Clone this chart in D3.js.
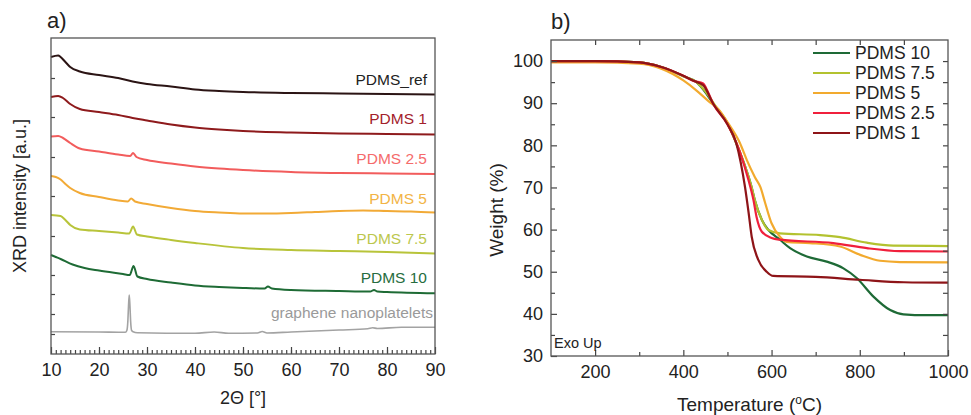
<!DOCTYPE html>
<html>
<head>
<meta charset="utf-8">
<script src="https://cdn.jsdelivr.net/npm/d3@7"></script>
<style>
  body { margin: 0; background: #fff; }
  svg text { font-family: "Liberation Sans", Arial, sans-serif; }
</style>
</head>
<body>
<svg id="fig" width="971" height="415"></svg>
<script>
// ---- XRD data (panel a), [2theta, intensity a.u.] ----
var xrdRef = [[10,297],[11.5,298.5],[12,297],[13,292],[14,287],[16,282.5],[20,279],[24,276],[27,272.5],[30,270],[35,267.5],[40,264.5],[45,263],[50,262],[60,261],[70,260.5],[80,260],[90,259.5]];
var xrd1 = [[10,257],[11.5,258],[12.5,256],[14,250],[16,245],[20,242],[24,239],[27,236],[30,233.5],[35,229.5],[40,226.5],[45,224.5],[50,223],[60,221.5],[70,220.5],[80,220],[90,219.5]];
var xrd25 = [[10,217.5],[11.5,218],[12.5,216],[14,211],[16,205.5],[20,202.5],[24,199.5],[26.5,198],[27.1,201],[27.8,197],[30,194],[35,190.5],[40,187.5],[45,185.5],[50,184],[60,182],[70,181],[80,180.5],[90,180]];
var xrd5 = [[10,178],[11,177],[12,174.5],[13,170],[14,166],[16,161],[20,157],[24,153.5],[26,152.5],[26.7,155.5],[27.5,152.5],[30,150],[35,146],[40,143],[45,141.5],[50,140.5],[55,140.5],[60,141],[65,142],[70,143],[75,143.5],[80,143],[85,142.5],[90,141.5]];
var xrd75 = [[10,139],[12,138],[13,134],[14,129],[16,124.5],[20,123],[24,121.5],[26.3,120.5],[27.1,127.5],[27.9,119.5],[30,117.5],[35,114],[40,111],[50,106],[60,104],[70,103],[80,102],[90,100.5]];
var xrd10 = [[10,99],[11,97],[12,95],[14.5,89.5],[17,86],[20,83.5],[25,80],[26.4,79],[27.2,88],[28,77.5],[30,75],[35,71.5],[40,68.5],[45,67],[50,66],[54.5,65.5],[55.2,67.5],[56,65.5],[60,64],[70,63],[76.5,62.5],[77.3,64],[78,62.5],[80,62],[90,60.7]];
var xrdGnp = [[10,22.3],[20,22],[25.5,21.7],[25.8,23.5],[26,32],[26.15,48],[26.3,59],[26.45,48],[26.6,32],[26.8,23.5],[27.1,22.3],[28,21.3],[40,20.7],[44,22],[47,20.7],[53,21],[54,22.5],[55,21],[60,22],[70,24],[76,25.2],[77,26.2],[78,25.5],[83,26.7],[90,26.7]];

var xrdNames = ["PDMS_ref", "PDMS 1", "PDMS 2.5", "PDMS 5", "PDMS 7.5", "PDMS 10", "graphene nanoplatelets"];
var xrdLabelY = [274, 235, 195, 155, 115, 76, 41];
var xrdYTicks = [276, 237, 197, 158, 118, 79, 60, 40, 20];
var xrdXTicks = [10, 20, 30, 40, 50, 60, 70, 80, 90];

// ---- TGA data (panel b), [temperature, weight %] ----
var tga10 = [[100,100],[200,100],[300,99.7],[350,98.6],[400,96.4],[430,95],[450,92.6],[470,89.5],[500,85.3],[520,80.5],[540,75],[555,70],[562,67],[578,62.3],[593,59.9],[619,57.6],[642,55.6],[680,53.6],[725,52.4],[763,50.8],[793,48.5],[831,44.1],[869,40.9],[899,39.9],[950,39.7],[1000,39.7]];
var tga75 = [[100,100],[200,100],[300,99.7],[350,98.6],[400,96.4],[430,95],[450,92.8],[470,89.8],[500,85.3],[520,80.5],[540,75],[555,70],[562,67],[578,62.3],[593,59.9],[619,59.1],[710,58.7],[755,58.2],[816,56.9],[876,56.2],[1000,56.1]];
var tga5 = [[100,99.7],[200,99.7],[300,99.4],[350,98.2],[400,95.4],[430,93],[457,90.5],[480,88.5],[500,85.5],[528,80.6],[544,76.5],[562,72.5],[575,70],[585,66.5],[600,61.5],[619,58.3],[634,57.1],[687,56.8],[755,56],[801,54],[846,52.6],[891,52.3],[1000,52.2]];
var tga25 = [[100,100],[200,100],[300,99.7],[350,98.6],[400,96.5],[423,95.3],[445,94.7],[452,93.5],[468,89.8],[500,85],[528,78.5],[547,72],[559,67],[566,63],[578,59.5],[600,58],[619,57.6],[740,56.8],[816,55.6],[891,54.9],[1000,54.8]];
var tga1 = [[100,100],[200,100],[300,99.7],[350,98.6],[400,96.5],[423,95.3],[445,94.3],[468,89.8],[500,85],[520,80.5],[530,76],[540,70],[548,64],[555,58.3],[570,52.8],[589,50],[604,49],[700,48.8],[800,48.1],[900,47.5],[1000,47.4]];

var tgaNames = ["PDMS 10", "PDMS 7.5", "PDMS 5", "PDMS 2.5", "PDMS 1"];
var tgaXTicks = [200, 400, 600, 800, 1000];
var tgaYTicks = [30, 40, 50, 60, 70, 80, 90, 100];

var svg = d3.select("#fig");

// ================= panel a =================
var xrdSeries = [xrdRef, xrd1, xrd25, xrd5, xrd75, xrd10, xrdGnp];
var xrdLine = ["#2b1414", "#8e1a1c", "#f25c5c", "#f2aa36", "#b8c43a", "#1e6b35", "#a3a3a3"];
var xrdText = ["#222222", "#a3212b", "#f56b6b", "#f2b445", "#bcc74d", "#276d40", "#9a9a9a"];

var ax = { left: 51, right: 435, top: 38, bottom: 354 };
var xa = d3.scaleLinear().domain([10, 90]).range([ax.left, ax.right]);
var ya = d3.scaleLinear().domain([0, 316]).range([ax.bottom, ax.top]);

var ga = svg.append("g");

var lineA = d3.line()
    .x(function(d) { return xa(d[0]); })
    .y(function(d) { return ya(d[1]); })
    .curve(d3.curveMonotoneX);

ga.selectAll("path.xrd")
    .data(xrdSeries)
  .enter().append("path")
    .attr("class", "xrd")
    .attr("d", lineA)
    .attr("fill", "none")
    .attr("stroke", function(d, i) { return xrdLine[i]; })
    .attr("stroke-width", function(d, i) { return i == 6 ? 1.6 : 2; });

ga.selectAll("text.lab")
    .data(xrdNames)
  .enter().append("text")
    .attr("class", "lab")
    .attr("x", function(d, i) { return i == 6 ? ax.right - 2 : ax.right - 8; })
    .attr("y", function(d, i) { return ya(xrdLabelY[i]); })
    .attr("dy", "0.35em")
    .attr("text-anchor", "end")
    .attr("font-size", 15.5)
    .attr("fill", function(d, i) { return xrdText[i]; })
    .text(function(d) { return d; });

// minor and major bottom ticks, inward
ga.append("g")
    .attr("transform", "translate(0," + ax.bottom + ")")
    .call(d3.axisBottom(xa).tickValues(d3.range(11, 90, 1)).tickSize(-4).tickFormat(""));
ga.append("g")
    .attr("transform", "translate(0," + ax.bottom + ")")
    .call(d3.axisBottom(xa).tickValues(xrdXTicks).tickSize(-7).tickPadding(9).tickFormat(d3.format("d")));
ga.append("g")
    .attr("transform", "translate(" + ax.left + ",0)")
    .call(d3.axisLeft(ya).tickValues(xrdYTicks).tickSize(-4).tickFormat(""));

ga.append("rect")
    .attr("x", ax.left).attr("y", ax.top)
    .attr("width", ax.right - ax.left).attr("height", ax.bottom - ax.top)
    .attr("fill", "none").attr("stroke", "#555").attr("stroke-width", 1.3);

ga.append("text")
    .attr("x", (ax.left + ax.right) / 2)
    .attr("y", 404)
    .attr("text-anchor", "middle")
    .attr("font-size", 18)
    .attr("fill", "#222")
    .text("2\u0398 [\u00b0]");

ga.append("text")
    .attr("transform", "translate(26," + ((ax.top + ax.bottom) / 2) + ") rotate(-90)")
    .attr("text-anchor", "middle")
    .attr("font-size", 18)
    .attr("fill", "#222")
    .text("XRD intensity [a.u.]");

ga.append("text")
    .attr("x", 47).attr("y", 28)
    .attr("font-size", 22)
    .attr("fill", "#222")
    .text("a)");

// ================= panel b =================
var tgaSeries = [tga10, tga75, tga5, tga25, tga1];
var tgaColor = ["#1e6a36", "#b3c22f", "#f2aa2e", "#f0203c", "#8e1418"];

var bx = { left: 551, right: 948, top: 40, bottom: 356 };
var xb = d3.scaleLinear().domain([100, 1000]).range([bx.left, bx.right]);
var yb = d3.scaleLinear().domain([30, 105]).range([bx.bottom, bx.top]);

var gb = svg.append("g");

var lineB = d3.line()
    .x(function(d) { return xb(d[0]); })
    .y(function(d) { return yb(d[1]); })
    .curve(d3.curveMonotoneX);

gb.selectAll("path.tga")
    .data(tgaSeries)
  .enter().append("path")
    .attr("class", "tga")
    .attr("d", lineB)
    .attr("fill", "none")
    .attr("stroke", function(d, i) { return tgaColor[i]; })
    .attr("stroke-width", 2.2);

// ticks on all four sides, inward
gb.append("g")
    .attr("transform", "translate(0," + bx.bottom + ")")
    .call(d3.axisBottom(xb).tickValues([300, 500, 700, 900]).tickSize(-4).tickFormat(""));
gb.append("g")
    .attr("transform", "translate(0," + bx.bottom + ")")
    .call(d3.axisBottom(xb).tickValues(tgaXTicks).tickSize(-6).tickPadding(9).tickFormat(d3.format("d")));
gb.append("g")
    .attr("transform", "translate(0," + bx.top + ")")
    .call(d3.axisTop(xb).tickValues(d3.range(200, 1000, 100)).tickSize(-5).tickFormat(""));
gb.append("g")
    .attr("transform", "translate(" + bx.left + ",0)")
    .call(d3.axisLeft(yb).tickValues(d3.range(35, 105, 10)).tickSize(-4).tickFormat(""));
gb.append("g")
    .attr("transform", "translate(" + bx.left + ",0)")
    .call(d3.axisLeft(yb).tickValues(tgaYTicks).tickSize(-6).tickPadding(8).tickFormat(d3.format("d")));
gb.append("g")
    .attr("transform", "translate(" + bx.right + ",0)")
    .call(d3.axisRight(yb).tickValues(d3.range(35, 105, 5)).tickSize(-5).tickFormat(""));

gb.append("rect")
    .attr("x", bx.left).attr("y", bx.top)
    .attr("width", bx.right - bx.left).attr("height", bx.bottom - bx.top)
    .attr("fill", "none").attr("stroke", "#555").attr("stroke-width", 1.3);

// legend
var legend = gb.selectAll("g.leg")
    .data(tgaNames)
  .enter().append("g")
    .attr("class", "leg")
    .attr("transform", function(d, i) { return "translate(813," + (53 + i * 20) + ")"; });
legend.append("line")
    .attr("x1", 0).attr("x2", 37)
    .attr("stroke", function(d, i) { return tgaColor[i]; })
    .attr("stroke-width", 2.2);
legend.append("text")
    .attr("x", 42)
    .attr("dy", "0.35em")
    .attr("font-size", 17.5)
    .attr("fill", "#222")
    .text(function(d) { return d; });

gb.append("text")
    .attr("x", 554).attr("y", 348)
    .attr("font-size", 14.5)
    .attr("fill", "#222")
    .text("Exo Up");

var tl = gb.append("text")
    .attr("x", (bx.left + bx.right) / 2)
    .attr("y", 411)
    .attr("text-anchor", "middle")
    .attr("font-size", 19)
    .attr("fill", "#222");
tl.append("tspan").text("Temperature (");
tl.append("tspan").attr("font-size", 12).attr("dy", -7).text("o");
tl.append("tspan").attr("dy", 7).text("C)");

gb.append("text")
    .attr("transform", "translate(503," + ((bx.top + bx.bottom) / 2 + 12) + ") rotate(-90)")
    .attr("text-anchor", "middle")
    .attr("font-size", 19)
    .attr("fill", "#222")
    .text("Weight (%)");

gb.append("text")
    .attr("x", 551).attr("y", 29)
    .attr("font-size", 22)
    .attr("fill", "#222")
    .text("b)");

// shared axis styling
svg.selectAll(".domain").remove();
svg.selectAll(".tick line").attr("stroke", "#444").attr("stroke-width", 1.2);
svg.selectAll(".tick text").attr("font-size", 18).attr("fill", "#222")
    .attr("font-family", "Liberation Sans, Arial, sans-serif");
</script>
</body>
</html>
